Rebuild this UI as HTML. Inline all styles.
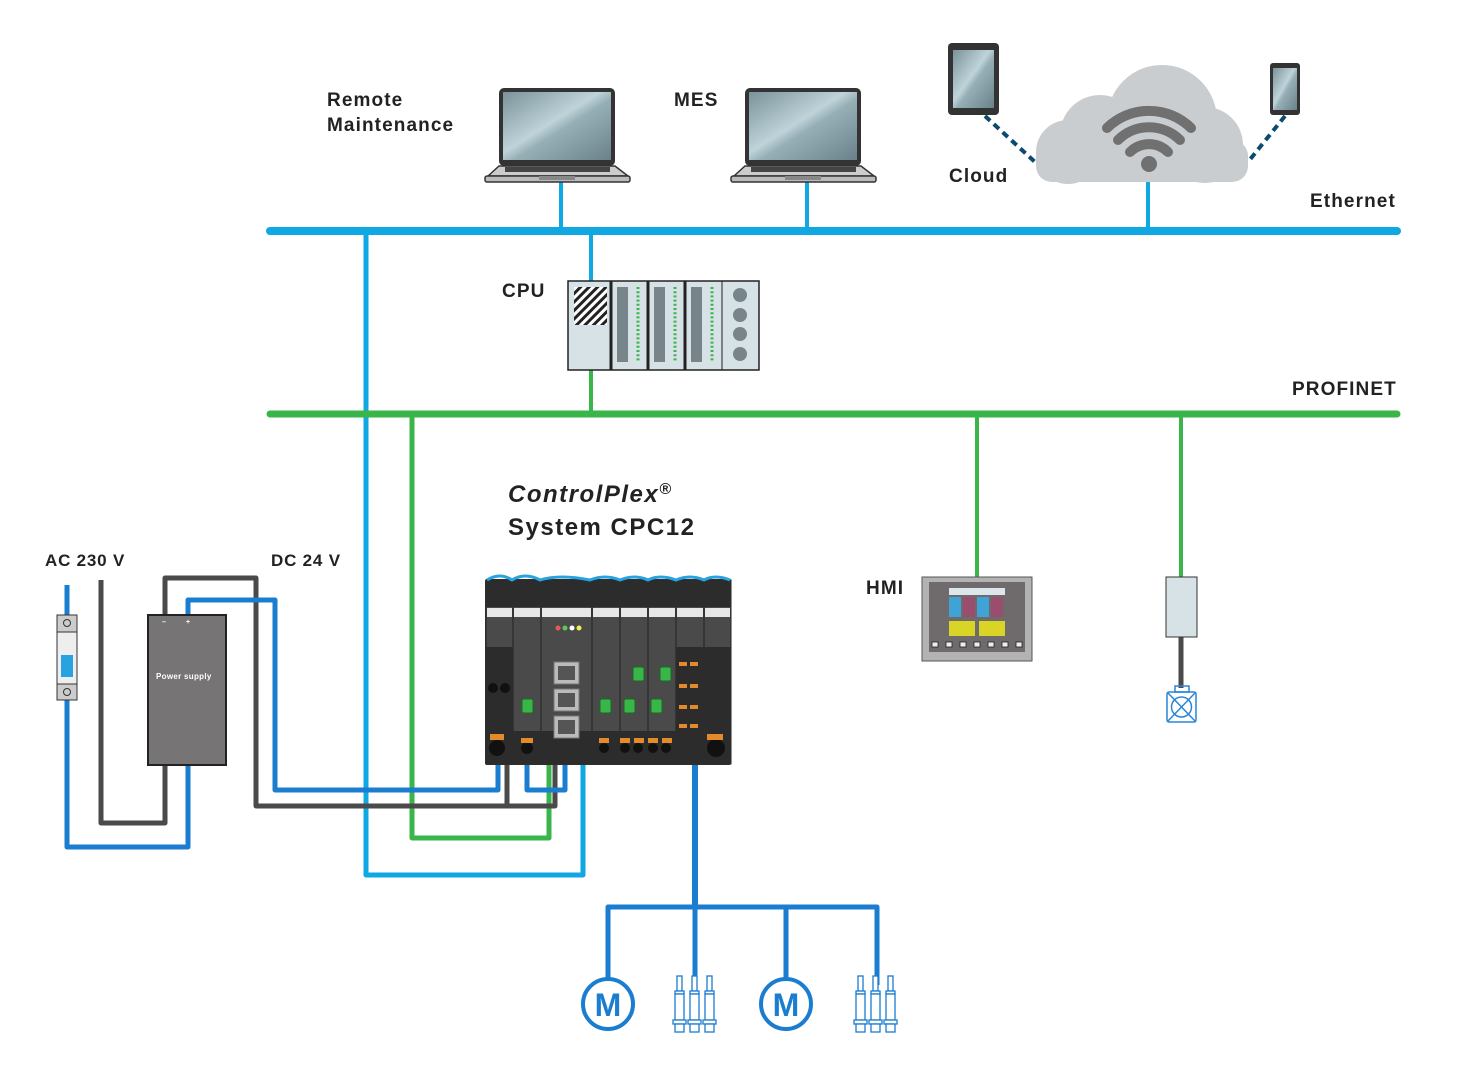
<!DOCTYPE html>
<html><head><meta charset="utf-8"><style>
html,body{margin:0;padding:0;background:#fff;}
svg{display:block;}
text{font-family:"Liberation Sans",sans-serif;font-weight:bold;fill:#222;letter-spacing:1.1px;}
</style></head><body>
<svg width="1465" height="1068" viewBox="0 0 1465 1068" xmlns="http://www.w3.org/2000/svg">
<defs>
<linearGradient id="scr" x1="0" y1="0" x2="1" y2="1">
<stop offset="0" stop-color="#7a929a"/><stop offset="0.45" stop-color="#bfd3d9"/><stop offset="0.55" stop-color="#96afb7"/><stop offset="1" stop-color="#6a8189"/></linearGradient>
<pattern id="hatch" width="6" height="6" patternUnits="userSpaceOnUse" patternTransform="rotate(45)">
<rect width="6" height="6" fill="#fff"/><rect width="3" height="6" fill="#222"/></pattern>
</defs>

<!-- Labels -->
<text x="327" y="106" font-size="19">Remote</text>
<text x="327" y="131" font-size="19">Maintenance</text>
<text x="674" y="106" font-size="19">MES</text>
<text x="949" y="182" font-size="19">Cloud</text>
<text x="1310" y="207" font-size="19">Ethernet</text>
<text x="502" y="297" font-size="19">CPU</text>
<text x="1292" y="395" font-size="19">PROFINET</text>
<text x="508" y="502" font-size="24" font-style="italic" style="letter-spacing:1.5px">ControlPlex<tspan font-size="16" dy="-8">®</tspan></text>
<text x="508" y="535" font-size="24" style="letter-spacing:1.5px">System CPC12</text>
<text x="866" y="594" font-size="19">HMI</text>
<text x="45" y="566" font-size="17" style="letter-spacing:0.8px">AC 230 V</text>
<text x="271" y="566" font-size="17" style="letter-spacing:0.8px">DC 24 V</text>

<!-- Wires (behind) -->
<g fill="none" stroke-linejoin="round" stroke-width="5">
<path d="M366 231 V875 H583 V675 H572" stroke="#0fa8e2"/>
<path d="M412 414 V838 H549 V705 H565" stroke="#3ab54a"/>
<path d="M101 580 V823 H165 V765" stroke="#4a4a4a"/>
<path d="M67 585 V847 H188 V765" stroke="#1a7dd0"/>
<path d="M165 615 V578 H256 V806 H555 V745" stroke="#4a4a4a"/>
<path d="M507 806 V765" stroke="#4a4a4a"/>
<path d="M188 615 V600 H275 V790 H498 V740" stroke="#1a7dd0"/>
<path d="M527 750 V790 H565 V745" stroke="#1a7dd0"/>
<path d="M695 690 V907" stroke="#1a7dd0" stroke-width="6"/>
<path d="M608 980 V907 H877 V985 M786 907 V980 M695 907 V985" stroke="#1a7dd0"/>
<path d="M977 414 V577 M1181 414 V577 M591 370 V414" stroke="#3ab54a" stroke-width="4"/>
<path d="M1181 637 V688" stroke="#4a4a4a" stroke-width="5"/>
<path d="M561 180 V231 M807 180 V231 M1148 180 V231 M591 231 V281" stroke="#0fa8e2" stroke-width="4"/>
<path d="M985 116 L1035 162 M1285 116 L1248 162" stroke="#0c4a6e" stroke-width="4" stroke-dasharray="7 5"/>
</g>

<line x1="270" y1="231" x2="1397" y2="231" stroke="#0fa8e2" stroke-width="8" stroke-linecap="round"/>
<line x1="270" y1="414" x2="1397" y2="414" stroke="#3ab54a" stroke-width="7" stroke-linecap="round"/>

<!-- Laptops -->
<g>
<rect x="499" y="88" width="116" height="78" rx="5" fill="#333"/>
<rect x="503" y="92" width="108" height="68" fill="url(#scr)"/>
<path d="M488 176 L499 166 H615 L628 176 Z" fill="#ccc" stroke="#333" stroke-width="1.5"/>
<rect x="485" y="176" width="145" height="6" rx="2" fill="#bbb" stroke="#333" stroke-width="1.5"/>
<rect x="505" y="167" width="105" height="5" fill="#444"/>
<rect x="539" y="176" width="36" height="4" fill="#888"/>
</g>
<g>
<rect x="745" y="88" width="116" height="78" rx="5" fill="#333"/>
<rect x="749" y="92" width="108" height="68" fill="url(#scr)"/>
<path d="M734 176 L745 166 H861 L874 176 Z" fill="#ccc" stroke="#333" stroke-width="1.5"/>
<rect x="731" y="176" width="145" height="6" rx="2" fill="#bbb" stroke="#333" stroke-width="1.5"/>
<rect x="751" y="167" width="105" height="5" fill="#444"/>
<rect x="785" y="176" width="36" height="4" fill="#888"/>
</g>

<rect x="948" y="43" width="51" height="72" rx="4" fill="#333"/>
<rect x="953" y="50" width="41" height="58" fill="url(#scr)"/>
<rect x="1270" y="63" width="30" height="52" rx="3" fill="#333"/>
<rect x="1273" y="68" width="24" height="42" fill="url(#scr)"/>

<!-- Cloud -->
<g fill="#c9cdd0">
<circle cx="1162" cy="120" r="55"/>
<circle cx="1100" cy="135" r="40"/>
<circle cx="1205" cy="145" r="38"/>
<circle cx="1068" cy="152" r="32"/>
<rect x="1036" y="140" width="212" height="42" rx="16"/>
</g>
<g fill="none" stroke="#707070" stroke-linecap="round">
<path d="M1107 128 A60 60 0 0 1 1191 128" stroke-width="10"/>
<path d="M1118 140 A44 44 0 0 1 1180 140" stroke-width="10"/>
<path d="M1130 152 A27 27 0 0 1 1168 152" stroke-width="10"/>
</g>
<circle cx="1149" cy="164" r="8" fill="#707070"/>

<!-- CPU -->
<g stroke="#222" stroke-width="1.5">
<rect x="568" y="281" width="191" height="89" fill="#d6e2e6"/>
<line x1="611" y1="281" x2="611" y2="370" stroke-width="3"/>
<line x1="648" y1="281" x2="648" y2="370" stroke-width="3"/>
<line x1="685" y1="281" x2="685" y2="370" stroke-width="3"/>
<line x1="722" y1="281" x2="722" y2="370" stroke-width="1"/>
</g>
<rect x="574" y="287" width="33" height="38" fill="url(#hatch)"/>
<g fill="#77858b">
<rect x="617" y="287" width="11" height="75"/><rect x="654" y="287" width="11" height="75"/><rect x="691" y="287" width="11" height="75"/>
<circle cx="740" cy="295" r="7"/><circle cx="740" cy="315" r="7"/><circle cx="740" cy="334" r="7"/><circle cx="740" cy="354" r="7"/>
</g>
<g stroke="#3ab54a" stroke-width="3" stroke-dasharray="2 2.2">
<line x1="638" y1="287" x2="638" y2="362"/><line x1="675" y1="287" x2="675" y2="362"/><line x1="712" y1="287" x2="712" y2="362"/>
</g>

<!-- HMI -->
<rect x="922" y="577" width="110" height="84" fill="#b3b3b3" stroke="#555" stroke-width="1"/>
<rect x="929" y="582" width="96" height="70" fill="#6f6a6b"/>
<rect x="949" y="588" width="56" height="7" fill="#dde6ea"/>
<rect x="949" y="597" width="12" height="20" fill="#3fa3d6"/><rect x="963" y="597" width="12" height="20" fill="#9b4d6e"/>
<rect x="977" y="597" width="12" height="20" fill="#3fa3d6"/><rect x="991" y="597" width="12" height="20" fill="#9b4d6e"/>
<rect x="949" y="621" width="26" height="15" fill="#d8d526"/><rect x="979" y="621" width="26" height="15" fill="#d8d526"/>
<g fill="#eee" stroke="#222" stroke-width="0.8">
<rect x="932" y="642" width="6" height="5"/><rect x="946" y="642" width="6" height="5"/><rect x="960" y="642" width="6" height="5"/><rect x="974" y="642" width="6" height="5"/><rect x="988" y="642" width="6" height="5"/><rect x="1002" y="642" width="6" height="5"/><rect x="1016" y="642" width="6" height="5"/>
</g>

<rect x="1166" y="577" width="31" height="60" fill="#d6e2e6" stroke="#333" stroke-width="1"/>
<g fill="none" stroke="#2a86d6" stroke-width="1.5">
<rect x="1175" y="686" width="14" height="6"/>
<rect x="1167" y="692" width="29" height="30" rx="2"/>
<circle cx="1181.5" cy="707" r="10"/>
<path d="M1168 693 L1195 721 M1195 693 L1168 721"/>
</g>

<!-- Breaker -->
<rect x="57" y="615" width="20" height="85" fill="#ccc" stroke="#333" stroke-width="1"/>
<rect x="57" y="632" width="20" height="52" fill="#eee" stroke="#333" stroke-width="1"/>
<rect x="61" y="655" width="12" height="22" fill="#29a3e0"/>
<circle cx="67" cy="623" r="3.5" fill="none" stroke="#333"/><circle cx="67" cy="692" r="3.5" fill="none" stroke="#333"/>

<!-- Power supply -->
<rect x="148" y="615" width="78" height="150" fill="#767475" stroke="#222" stroke-width="2"/>
<text x="156" y="679" font-size="8" style="fill:#fff;letter-spacing:0.3px">Power supply</text>
<text x="162" y="624" font-size="7" style="fill:#fff">–</text><text x="186" y="624" font-size="7" style="fill:#fff">+</text>

<!-- ControlPlex device -->
<rect x="485" y="579" width="246" height="186" rx="2" fill="#3a3a3a"/>
<g fill="#4a4a4a" stroke="#222" stroke-width="1">
<rect x="486" y="580" width="27" height="184"/><rect x="513" y="580" width="28" height="184"/>
<rect x="541" y="580" width="51" height="184"/><rect x="592" y="580" width="28" height="184"/>
<rect x="620" y="580" width="28" height="184"/><rect x="648" y="580" width="28" height="184"/>
<rect x="676" y="580" width="28" height="184"/><rect x="704" y="580" width="27" height="184"/>
</g>
<g fill="#2c2c2c">
<rect x="486" y="580" width="245" height="27"/>
<rect x="486" y="647" width="27" height="84"/>
<rect x="676" y="647" width="55" height="84"/>
<rect x="486" y="731" width="245" height="33"/>
</g>
<g fill="#e8e8e8">
<rect x="487" y="608" width="25" height="9"/><rect x="514" y="608" width="26" height="9"/><rect x="542" y="608" width="49" height="9"/>
<rect x="593" y="608" width="26" height="9"/><rect x="621" y="608" width="26" height="9"/><rect x="649" y="608" width="26" height="9"/>
<rect x="677" y="608" width="26" height="9"/><rect x="705" y="608" width="25" height="9"/>
</g>
<path d="M487 580 Q500 572 512 580 Q525 572 540 580 Q560 574 590 580 Q605 574 620 580 Q635 574 648 580 Q660 574 676 580 Q690 574 704 580 Q715 574 730 580" fill="none" stroke="#29a3e0" stroke-width="3"/>
<circle cx="558" cy="628" r="2.5" fill="#e55"/>
<circle cx="565" cy="628" r="2.5" fill="#5c5"/><circle cx="572" cy="628" r="2.5" fill="#fff"/><circle cx="579" cy="628" r="2.5" fill="#ee5"/>
<g fill="#bbb" stroke="#777"><rect x="554" y="662" width="25" height="22"/><rect x="554" y="689" width="25" height="22"/><rect x="554" y="716" width="25" height="22"/></g>
<g fill="#555"><rect x="558" y="666" width="17" height="14"/><rect x="558" y="693" width="17" height="14"/><rect x="558" y="720" width="17" height="14"/></g>
<g fill="#3ab54a" stroke="#1a6a20">
<rect x="522" y="699" width="11" height="14" rx="2"/><rect x="600" y="699" width="11" height="14" rx="2"/><rect x="624" y="699" width="11" height="14" rx="2"/>
<rect x="651" y="699" width="11" height="14" rx="2"/><rect x="633" y="667" width="11" height="14" rx="2"/><rect x="660" y="667" width="11" height="14" rx="2"/>
</g>
<g fill="#111">
<circle cx="493" cy="688" r="5"/><circle cx="505" cy="688" r="5"/><circle cx="497" cy="748" r="8"/><circle cx="527" cy="748" r="6"/>
<circle cx="716" cy="748" r="9"/><circle cx="604" cy="748" r="5"/><circle cx="625" cy="748" r="5"/><circle cx="638" cy="748" r="5"/><circle cx="653" cy="748" r="5"/><circle cx="666" cy="748" r="5"/>
</g>
<g fill="#e38a2a">
<rect x="490" y="734" width="14" height="6"/><rect x="521" y="738" width="12" height="5"/><rect x="599" y="738" width="10" height="5"/>
<rect x="620" y="738" width="10" height="5"/><rect x="634" y="738" width="10" height="5"/><rect x="648" y="738" width="10" height="5"/><rect x="662" y="738" width="10" height="5"/>
<rect x="679" y="662" width="8" height="4"/><rect x="690" y="662" width="8" height="4"/><rect x="679" y="684" width="8" height="4"/><rect x="690" y="684" width="8" height="4"/>
<rect x="679" y="705" width="8" height="4"/><rect x="690" y="705" width="8" height="4"/><rect x="679" y="724" width="8" height="4"/><rect x="690" y="724" width="8" height="4"/>
<rect x="707" y="734" width="16" height="6"/>
</g>

<!-- Motors -->
<g fill="#fff" stroke="#1a7dd0" stroke-width="4">
<circle cx="608" cy="1004" r="25"/><circle cx="786" cy="1004" r="25"/>
</g>
<text x="608" y="1016" font-size="32" text-anchor="middle" style="fill:#1a7dd0;letter-spacing:0">M</text>
<text x="786" y="1016" font-size="32" text-anchor="middle" style="fill:#1a7dd0;letter-spacing:0">M</text>

<!-- Sensors -->
<g fill="#fff" stroke="#1a7dd0" stroke-width="1.3">
<g id="s1">
<rect x="677" y="976" width="5" height="15"/><rect x="675" y="991" width="9" height="3"/><rect x="675" y="994" width="9" height="26"/><rect x="673" y="1020" width="13" height="4"/><rect x="675" y="1024" width="9" height="8"/>
</g>
<use href="#s1" x="15"/><use href="#s1" x="30"/>
<use href="#s1" x="181"/><use href="#s1" x="196"/><use href="#s1" x="211"/>
</g>
</svg>
</body></html>
